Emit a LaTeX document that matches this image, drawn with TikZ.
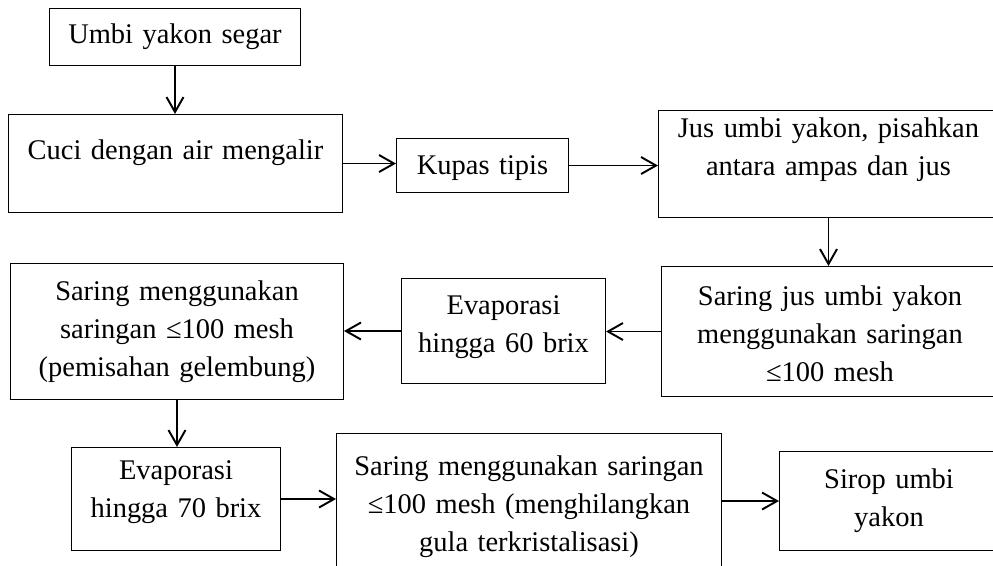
\documentclass[tikz,border=0pt]{standalone}
\usepackage{fontspec}
\setmainfont{Liberation Serif}
\usetikzlibrary{arrows.meta}
\tikzset{
  stepbox/.style={draw, line width=0.6pt, inner sep=0pt, align=center, anchor=north west,
    font=\fontsize{16.2pt}{21.5pt}\selectfont},
  flow/.style={line width=1.1pt, -{Straight Barb[length=0.3cm, width=0.34cm]}}
}
\begin{document}
\begin{tikzpicture}[x=0.02cm, y=-0.02cm]
\clip (0,0) rectangle (993,565);
\node[stepbox, text width=5.02cm, text height=0.70cm, text depth=0.44cm] (umbi) at (49,8) {Umbi yakon segar};
\node[stepbox, text width=6.68cm, text height=0.90cm, text depth=1.06cm] (cuci) at (8,114) {Cuci dengan air mengalir};
\node[stepbox, text width=3.44cm, text height=0.72cm, text depth=0.36cm] (kupas) at (396,138) {Kupas tipis};
\node[stepbox, text width=6.80cm, text height=0.54cm, text depth=1.60cm] (jus) at (658,110) {Jus umbi yakon, pisahkan\\antara ampas dan jus};
\node[stepbox, text width=6.74cm, text height=0.78cm, text depth=1.82cm] (saringjus) at (661,266) {Saring jus umbi yakon\\menggunakan saringan\\≤100 mesh};
\node[stepbox, text width=4.08cm, text height=0.72cm, text depth=1.38cm] (evap60) at (401,278) {Evaporasi\\hingga 60 brix};
\node[stepbox, text width=6.66cm, text height=0.74cm, text depth=1.98cm] (gelembung) at (10,263) {Saring menggunakan\\saringan ≤100 mesh\\(pemisahan gelembung)};
\node[stepbox, text width=4.18cm, text height=0.64cm, text depth=1.42cm] (evap70) at (71,447) {Evaporasi\\hingga 70 brix};
\node[stepbox, text width=7.70cm, text height=0.84cm, text depth=2.26cm] (gula) at (336,433) {Saring menggunakan saringan\\≤100 mesh (menghilangkan\\gula terkristalisasi)};
\node[stepbox, text width=4.38cm, text height=0.74cm, text depth=1.24cm] (sirop) at (779,451) {Sirop umbi\\yakon};

\draw[flow] (umbi.south) -- (umbi.south |- cuci.north);
\draw[flow] (cuci.east) -- (cuci.east -| kupas.west);
\draw[flow] (kupas.east) -- (kupas.east -| jus.west);
\draw[flow] (jus.south) -- (jus.south |- saringjus.north);
\draw[flow] (saringjus.west) -- (saringjus.west -| evap60.east);
\draw[flow] (evap60.west) -- (evap60.west -| gelembung.east);
\draw[flow] (gelembung.south) -- (gelembung.south |- evap70.north);
\draw[flow] (evap70.east) -- (evap70.east -| gula.west);
\draw[flow] (gula.east |- sirop.west) -- (sirop.west);
\end{tikzpicture}
\end{document}
